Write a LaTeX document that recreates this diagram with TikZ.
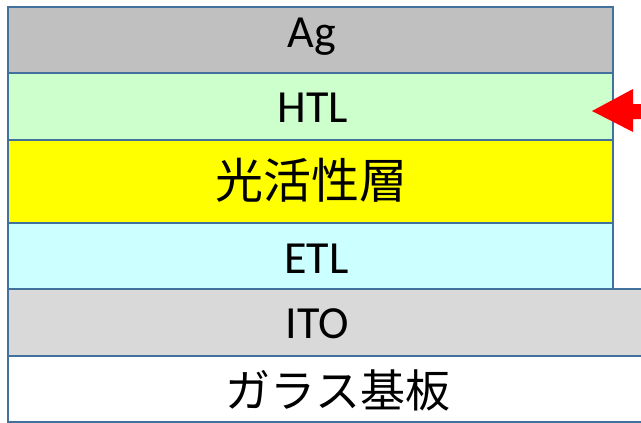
\documentclass[tikz,border=0pt]{standalone}
\usepackage{fontspec}
\setmainfont{Carlito}
\newfontfamily\cjk{Noto Sans CJK JP}
\definecolor{edge}{HTML}{41719C}
\definecolor{agc}{HTML}{C0C0C0}
\definecolor{htlc}{HTML}{CCFFCC}
\definecolor{actc}{HTML}{FFFF00}
\definecolor{etlc}{HTML}{CCFFFF}
\definecolor{itoc}{HTML}{D9D9D9}
\definecolor{arrc}{HTML}{FF0000}
\tikzset{
  layer/.style={draw=edge, line width=2.5pt},
  lat/.style={anchor=base, inner sep=0pt, font=\fontsize{46}{55}\selectfont},
  jp/.style={anchor=center, inner sep=0pt},
}
\begin{document}
\begin{tikzpicture}[x=1pt,y=-1pt]
\useasboundingbox (0,0) rectangle (641,423);
\clip (0,0) rectangle (641,423);
\fill[white] (0,0) rectangle (641,423);
% layers
\draw[layer, fill=white] (8,356) rectangle (660,422);
\draw[layer, fill=itoc] (8,289) rectangle (660,356);
\draw[layer, fill=etlc] (8,223) rectangle (613,289);
\draw[layer, fill=actc] (8,140) rectangle (613,223);
\draw[layer, fill=htlc] (8,73) rectangle (613,140);
\draw[layer, fill=agc] (8,7) rectangle (613,73);
% labels
\node[lat] (ag) at (312,47) {Ag};
\node[lat] (htl) at (313,122) {HTL};
\node[jp, font=\cjk\fontsize{48}{56}\selectfont] (act) at (311,180) {光活性層};
\node[lat] (etl) at (316.5,273) {ETL};
\node[lat] (ito) at (317,338) {ITO};
\node[jp, font=\cjk\fontsize{45}{54}\selectfont] (glass) at (338,390) {ガラス基板};
% arrow
\fill[arrc] (592,111) -- (633,89) -- (633,104) -- (660,104) -- (660,119) -- (633,119) -- (633,132) -- cycle;
\end{tikzpicture}
\end{document}
